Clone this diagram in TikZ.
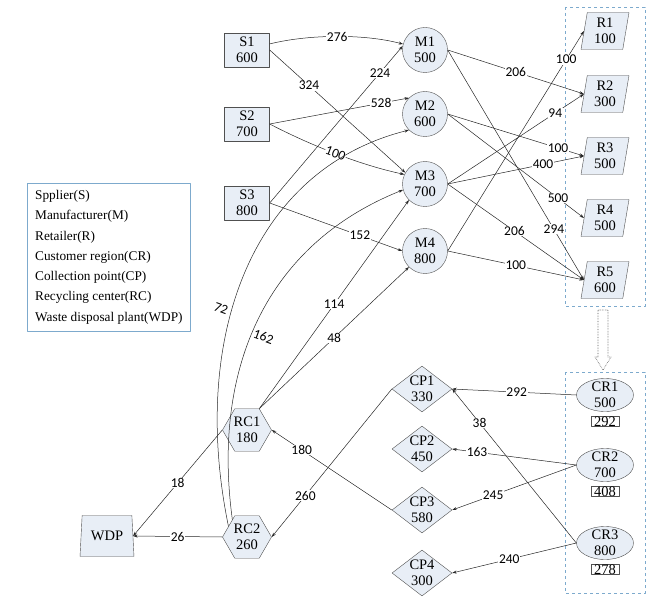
\documentclass[tikz,border=0pt]{standalone}
\usepackage{fontspec}
\setmainfont{Liberation Serif}
\newfontfamily\wfont{Carlito}
\usetikzlibrary{shapes.geometric,arrows.meta,positioning}
\definecolor{nfill}{RGB}{232,238,246}
\definecolor{nline}{RGB}{80,80,80}
\definecolor{dbox}{RGB}{125,170,205}
\begin{document}
\begin{tikzpicture}[x=1pt, y=1pt, font=\fontsize{14.5}{16.5}\selectfont, line join=round, >={Stealth[length=4.5pt,width=3pt]},
  base/.style={draw=nline, fill=nfill, align=center, inner sep=0pt},
  lbl/.style={inner sep=2pt, label={[align=center,inner sep=0pt]center:#1}},
  sbox/.style={base, rectangle, minimum width=45pt, minimum height=34pt},
  mnode/.style={base, circle, minimum size=45pt},
  rnode/.style={base, trapezium, trapezium left angle=80, trapezium right angle=100, trapezium stretches=true, minimum width=48pt, minimum height=37pt},
  crnode/.style={base, ellipse, minimum width=57pt, minimum height=33pt},
  qbox/.style={draw=nline, inner xsep=3pt, inner ysep=0.5pt, font=\fontsize{14.5}{14.5}\selectfont},
  cpnode/.style={base, diamond, minimum width=60pt, minimum height=46pt},
  rcnode/.style={base, regular polygon, regular polygon sides=6, minimum size=49pt},
  wnode/.style={base, trapezium, trapezium angle=82, trapezium stretches=true, minimum width=54pt, minimum height=41pt},
  wlbl/.style={fill=white, inner sep=0.6pt, font=\wfont\fontsize{13.5}{13.5}\selectfont},
  flow/.style={->, draw=black!85, line width=0.5pt}]
\useasboundingbox (0,0) rectangle (661,-604);
% groups
\draw[dbox, dashed] (565,-7) rectangle (645,-306);
\draw[dbox, dashed] (565,-372) rectangle (645,-593);
\draw[black!65, densely dotted, line width=0.6pt] (598,-310) -- (598,-357) -- (595,-357) -- (603,-370) -- (611,-357) -- (608,-357) -- (608,-310) -- cycle;
% nodes
\foreach \n/\v/\y in {1/600/50,2/700/124,3/800/203}
  \node[sbox] (S\n) at (247,-\y) {S\n\\\v};
\foreach \n/\v/\y in {1/500/50,2/600/114,3/700/184,4/800/251}
  \node[mnode] (M\n) at (425,-\y) {M\n\\\v};
\foreach \n/\v/\y in {1/100/31,2/300/94,3/500/156,4/500/218,5/600/280}
  \node[rnode, lbl={R\n\\\v}] (R\n) at (605,-\y) {};
\foreach \n/\v/\q/\y in {1/500/292/395,2/700/408/465,3/800/278/543}{
  \node[crnode, lbl={CR\n\\\v}] (CR\n) at (605,-\y) {};
  \node[qbox, below=4pt of CR\n] (Q\n) {\q};}
\foreach \n/\v/\y in {1/330/389,2/450/449,3/580/510,4/300/573}
  \node[cpnode, lbl={CP\n\\\v}] (CP\n) at (422,-\y) {};
\foreach \n/\v/\y in {1/180/430,2/260/537}
  \node[rcnode] (RC\n) at (247,-\y) {RC\n\\\v};
\node[wnode] (WDP) at (107,-536) {WDP};
\node[draw=dbox, align=left, anchor=north west, inner xsep=8pt, inner ysep=7pt, font=\fontsize{13.3}{20.3}\selectfont] (key) at (27,-183)
  {Spplier(S)\\Manufacturer(M)\\Retailer(R)\\Customer region(CR)\\Collection point(CP)\\Recycling center(RC)\\Waste disposal plant(WDP)};
% flows
\foreach \a/\b/\w/\p in {S1.east/M3.150/324/.29, S2.east/M2.135/528/.8, S3.east/M1.170/224/.83, S3.east/M4.west/152/.68,
  M1.east/R2.west/206/.5, M1.east/R5.west/294/.78, M2.east/R3.west/100/.81, M2.east/R4.west/500/.81,
  M3.east/R2.west/94/.79, M3.east/R3.west/400/.7, M3.east/R5.west/206/.49, M4.east/R1.west/100/.87, M4.east/R5.west/100/.5,
  RC1.60/M3.225/114/.5, RC1.60/M4.225/48/.5, RC1.west/WDP.east/18/.5, RC2.west/WDP.east/26/.5,
  CP3.west/RC1.east/180/.75, CP1.west/RC2.east/260/.72,
  CR1.west/CP1.east/292/.48, CR2.west/CP2.east/163/.8, CR2.west/CP3.east/245/.67,
  CR3.west/CP1.east/38/.78, CR3.west/CP4.east/240/.54}
  \draw[flow] (\a) -- (\b) node[wlbl, pos=\p] {\w};
\draw[flow] (S1.15) .. controls (310,-34) and (365,-34) .. (M1.165) node[wlbl, pos=.5] {276};
\draw[flow] (S2.east) .. controls (310,-145) and (360,-165) .. (M3.155) node[wlbl, pos=.5, sloped] {100};
\draw[flow] (RC2.150) .. controls (190,-340) and (250,-170) .. (M2.225) node[wlbl, fill=none, pos=.42, xshift=-11pt, rotate=-20] {72};
\draw[flow] (RC2.130) .. controls (212,-370) and (265,-245) .. (M3.195) node[wlbl, fill=none, pos=.45, xshift=13pt, rotate=-20] {162};
\end{tikzpicture}
\end{document}
